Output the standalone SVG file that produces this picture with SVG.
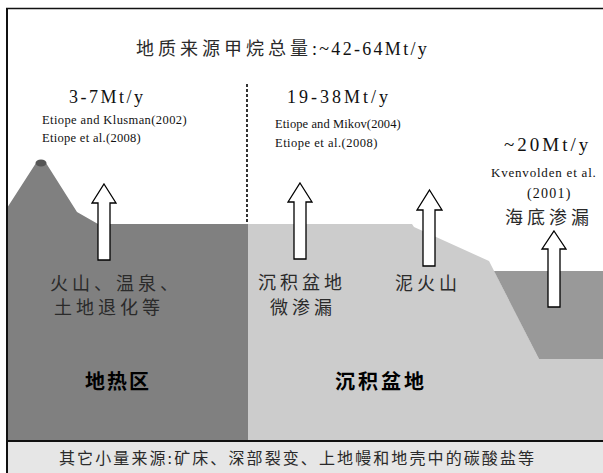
<svg xmlns="http://www.w3.org/2000/svg" width="603" height="473" viewBox="0 0 603 473">
  <style>
    .latin { font-family: 'Liberation Serif', 'DejaVu Serif', serif; fill: #111; }
    .cjk { font-family: 'Noto Sans CJK SC', sans-serif; fill: #2a2a2a; font-size: 18px; letter-spacing: 4px; }
    .rate { font-size: 18px; }
    .cite { font-size: 12.5px; }
    .zone { font-family: 'Noto Sans CJK SC', sans-serif; font-weight: bold; font-size: 20px; fill: #000; }
    .arrow { fill: #fff; stroke: #000; stroke-width: 1.3; stroke-linejoin: miter; }
  </style>

  <!-- background -->
  <rect x="0" y="0" width="603" height="473" fill="#fff"/>

  <!-- geothermal zone: volcano and ground -->
  <g id="geothermal">
    <path d="M7,208 L36,163 L46,163 L77,212 L98,224 L248,224 L248,441 L7,441 Z" fill="#808080"/>
    <ellipse cx="41" cy="163" rx="5.5" ry="3.5" fill="#555"/>
  </g>

  <!-- sedimentary basin and continental slope -->
  <g id="basin">
    <path d="M248,224 L412,224 L414,227 L489,261 L539,359 L603,359 L603,441 L248,441 Z" fill="#cccccc"/>
  </g>

  <!-- seafloor -->
  <g id="seafloor">
    <path d="M494,271 L603,271 L603,359 L539,359 Z" fill="#999999"/>
  </g>

  <!-- bottom strip -->
  <rect x="8" y="441" width="595" height="32" fill="#e6e6e6"/>

  <!-- frame -->
  <g id="frame" stroke="#111" fill="none">
    <line x1="7" y1="8" x2="7" y2="473" stroke-width="2"/>
    <line x1="6" y1="8.5" x2="603" y2="8.5" stroke-width="1.6"/>
    <line x1="6" y1="441" x2="603" y2="441" stroke-width="2"/>
  </g>

  <!-- divider between geothermal and basin sources -->
  <g id="connectors">
    <line x1="247" y1="84" x2="247" y2="224" stroke="#000" stroke-width="1.6" stroke-dasharray="3 2"/>
  </g>

  <!-- emission arrows -->
  <g id="arrows">
    <path class="arrow" d="M104,184 L116,203 L110,203 L110,260 L98,260 L98,203 L92,203 Z"/>
    <path class="arrow" d="M300,183 L312,202 L306,202 L306,259 L294,259 L294,202 L288,202 Z"/>
    <path class="arrow" d="M429.5,190 L442,210 L435,210 L435,266 L423,266 L423,210 L417,210 Z"/>
    <path class="arrow" d="M554,231 L566,249 L560,249 L560,307 L548,307 L548,249 L542,249 Z"/>
  </g>

  <!-- title -->
  <g id="title">
    <text x="136" y="55" font-size="18"><tspan class="cjk" font-size="18" fill="#111" letter-spacing="5">地质来源甲烷总量</tspan><tspan class="latin" letter-spacing="2.3">:~42-64Mt/y</tspan></text>
  </g>

  <!-- geothermal source -->
  <g id="geothermal-source">
    <text class="latin rate" x="69" y="103" letter-spacing="2.5">3-7Mt/y</text>
    <text class="latin cite" x="42" y="124" letter-spacing="0.4">Etiope and Klusman(2002)</text>
    <text class="latin cite" x="42" y="142" letter-spacing="0.3">Etiope et al.(2008)</text>
    <text class="cjk" x="50" y="290">火山、温泉、</text>
    <text class="cjk" x="54" y="314">土地退化等</text>
  </g>

  <!-- basin sources -->
  <g id="basin-source">
    <text class="latin rate" x="287" y="103" letter-spacing="3">19-38Mt/y</text>
    <text class="latin cite" x="275" y="128" letter-spacing="0.1">Etiope and Mikov(2004)</text>
    <text class="latin cite" x="275" y="147" letter-spacing="0.5">Etiope et al.(2008)</text>
    <text class="cjk" x="258" y="289">沉积盆地</text>
    <text class="cjk" x="270" y="314">微渗漏</text>
    <text class="cjk" x="395" y="290">泥火山</text>
  </g>

  <!-- seafloor source -->
  <g id="seafloor-source">
    <text class="latin" x="504" y="151" font-size="19" letter-spacing="3">~20Mt/y</text>
    <text class="latin" x="491" y="177" font-size="13" letter-spacing="0.8">Kvenvolden et al.</text>
    <text class="latin" x="527" y="198" font-size="14" letter-spacing="1.2">(2001)</text>
    <text class="cjk" x="505" y="224">海底渗漏</text>
  </g>

  <!-- zone labels -->
  <g id="zone-labels">
    <text class="zone" x="85" y="389" letter-spacing="2">地热区</text>
    <text class="zone" x="335" y="389" letter-spacing="3">沉积盆地</text>
  </g>

  <!-- minor sources -->
  <g id="minor-sources">
    <text class="cjk" x="59" y="464" style="font-size:16px;letter-spacing:2.1px">其它小量来源<tspan class="latin" fill="#2a2a2a">:</tspan>矿床、深部裂变、上地幔和地壳中的碳酸盐等</text>
  </g>
</svg>
